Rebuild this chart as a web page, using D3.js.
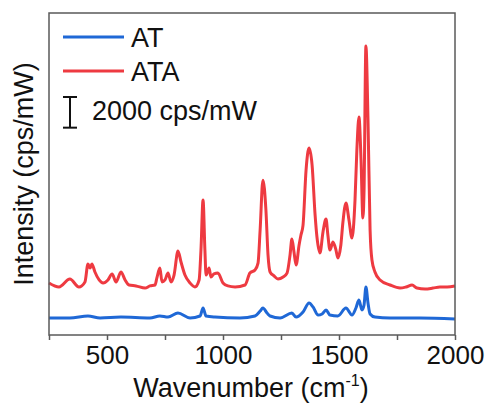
<!DOCTYPE html>
<html lang="en">
<head>
<meta charset="utf-8">
<title>Raman AT / ATA</title>
<script src="https://cdn.jsdelivr.net/npm/d3@7"></script>
<style>
  body { margin: 0; background: #fff; }
  text { font-family: "Liberation Sans", Arial, sans-serif; fill: #111; }
</style>
</head>
<body>
<script>
// spectra (wavenumber cm-1, intensity cps/mW incl. offset)
var ataWn = [250, 293, 340, 379, 405, 418, 427, 435, 448, 466, 483, 504, 522, 539, 560, 578, 595, 625, 664, 685,
  707, 715, 728, 737, 750, 763, 776, 789, 806, 819, 836, 858, 879, 897, 905, 914, 922, 927, 940, 948,
  961, 978, 1000, 1021, 1052, 1095, 1116, 1138, 1151, 1160, 1172, 1185, 1194, 1203, 1220, 1237, 1259, 1276, 1289, 1297,
  1306, 1315, 1328, 1336, 1345, 1358, 1371, 1384, 1397, 1405, 1418, 1431, 1444, 1452, 1461, 1474, 1487, 1495, 1508, 1517,
  1530, 1543, 1556, 1569, 1577, 1586, 1595, 1603, 1608, 1616, 1625, 1634, 1642, 1655, 1677, 1720, 1763, 1789, 1815, 1836,
  1871, 1905, 1935, 1966, 2000];
var ataVal = [3390, 3130, 3650, 3130, 3460, 4630, 4370, 4630, 4110, 3590, 3390, 3590, 3980, 3460, 4110, 3590, 3260, 3200, 3060, 3200,
  3260, 3720, 4370, 3460, 3590, 4040, 3460, 3910, 5480, 4760, 3910, 3390, 3130, 3590, 5540, 8800, 5540, 3910, 4370, 3780,
  3980, 4040, 3390, 3200, 3130, 3260, 4040, 4240, 4690, 6850, 10100, 8150, 5220, 4110, 3850, 3650, 3780, 4040, 5220, 6260,
  5410, 4560, 5870, 6520, 7170, 10760, 12190, 11080, 7820, 6390, 5350, 6720, 7560, 6520, 5540, 6060, 5540, 5020, 5870, 7370,
  8610, 7500, 6320, 8800, 12060, 14210, 11410, 7630, 9450, 18840, 14020, 6850, 4890, 4110, 3590, 3260, 3060, 3130, 3260, 3060,
  3000, 3060, 3130, 3130, 3200];

var atWn = [250, 340, 418, 470, 560, 685, 728, 763, 806, 858, 901, 914, 927, 965, 1073, 1138, 1160, 1172, 1190, 1203,
  1246, 1297, 1315, 1345, 1371, 1388, 1410, 1427, 1444, 1461, 1495, 1530, 1556, 1573, 1586, 1599, 1608, 1616, 1625, 1634,
  1655, 1720, 1849, 2000];
var atVal = [1110, 1110, 1240, 1110, 1170, 1110, 1240, 1170, 1430, 1110, 1240, 1760, 1240, 1170, 1110, 1240, 1560, 1760, 1430, 1240,
  1110, 1430, 1170, 1500, 2090, 1830, 1300, 1370, 1630, 1300, 1240, 1760, 1300, 1760, 2280, 1630, 1960, 3130, 2090, 1370,
  1170, 1110, 1110, 1040];

var seriesNames = ["AT", "ATA"];
var seriesColors = ["#1f68d6", "#ee3a41"];
var xTicks = [250, 500, 750, 1000, 1250, 1500, 1750, 2000];
var xLabels = [500, 1000, 1500, 2000];
var scaleBarValue = 2000;

var W = 486, H = 403;
var pLeft = 49, pRight = 455, pTop = 13, pBottom = 335;

var svg = d3.select("body").append("svg")
  .attr("width", W)
  .attr("height", H);

var x = d3.scaleLinear().domain([250, 2000]).range([pLeft, pRight]);
var y = d3.scaleLinear().domain([0, 21000]).range([pBottom, pTop]);

// lines
var line = d3.line()
  .x(function(d) { return x(d[0]); })
  .y(function(d) { return y(d[1]); })
  .curve(d3.curveMonotoneX);

var at = d3.zip(atWn, atVal);
var ata = d3.zip(ataWn, ataVal);

svg.selectAll("path.spec")
  .data([at, ata])
  .enter()
  .append("path")
    .attr("class", "spec")
    .attr("d", line)
    .attr("fill", "none")
    .attr("stroke", function(d, i) { return seriesColors[i]; })
    .attr("stroke-width", 3)
    .attr("stroke-linejoin", "round");

// frame
svg.append("rect")
  .attr("x", pLeft).attr("y", pTop)
  .attr("width", pRight - pLeft).attr("height", pBottom - pTop)
  .attr("fill", "none")
  .attr("stroke", "#5a5a5a")
  .attr("stroke-width", 1.5);

// x axis
var xAxis = d3.axisBottom(x)
  .tickValues(xTicks)
  .tickSize(5)
  .tickPadding(6)
  .tickFormat(function(d) { return xLabels.indexOf(d) >= 0 ? d : ""; });

var gx = svg.append("g")
  .attr("transform", "translate(0," + pBottom + ")")
  .call(xAxis);
gx.select(".domain").remove();
gx.selectAll(".tick line").attr("stroke", "#5a5a5a").attr("stroke-width", 1.5);
gx.selectAll(".tick text")
  .style("font-size", "26px")
  .style("font-family", "'Liberation Sans', Arial, sans-serif")
  .attr("fill", "#111");

// axis titles
var xt = svg.append("text")
  .attr("x", 251)
  .attr("y", 397)
  .attr("text-anchor", "middle")
  .style("font-size", "27px");
xt.append("tspan").text("Wavenumber (cm");
xt.append("tspan").text("-1").style("font-size", "16px").attr("dy", -11);
xt.append("tspan").text(")").attr("dy", 11);

svg.append("text")
  .attr("transform", "translate(33,174) rotate(-90)")
  .attr("text-anchor", "middle")
  .style("font-size", "27px")
  .text("Intensity (cps/mW)");

// legend
var legend = svg.selectAll("g.leg")
  .data(seriesNames)
  .enter()
  .append("g")
    .attr("class", "leg")
    .attr("transform", function(d, i) { return "translate(63," + (37 + i * 34) + ")"; });
legend.append("line")
  .attr("x1", 0).attr("x2", 61)
  .attr("stroke", function(d, i) { return seriesColors[i]; })
  .attr("stroke-width", 3);
legend.append("text")
  .attr("x", 68).attr("y", 10)
  .style("font-size", "27px")
  .text(function(d) { return d; });

// scale bar
var sbX = 70, sbTop = 97;
var sbBottom = sbTop + (y(0) - y(scaleBarValue));
var sb = svg.append("g").attr("stroke", "#111").attr("stroke-width", 2);
sb.append("line").attr("x1", sbX).attr("x2", sbX).attr("y1", sbTop).attr("y2", sbBottom);
sb.append("line").attr("x1", sbX - 7).attr("x2", sbX + 7).attr("y1", sbTop).attr("y2", sbTop);
sb.append("line").attr("x1", sbX - 7).attr("x2", sbX + 7).attr("y1", sbBottom).attr("y2", sbBottom);
svg.append("text")
  .attr("x", 92).attr("y", 120)
  .style("font-size", "27px")
  .text(scaleBarValue + " cps/mW");
</script>
</body>
</html>
